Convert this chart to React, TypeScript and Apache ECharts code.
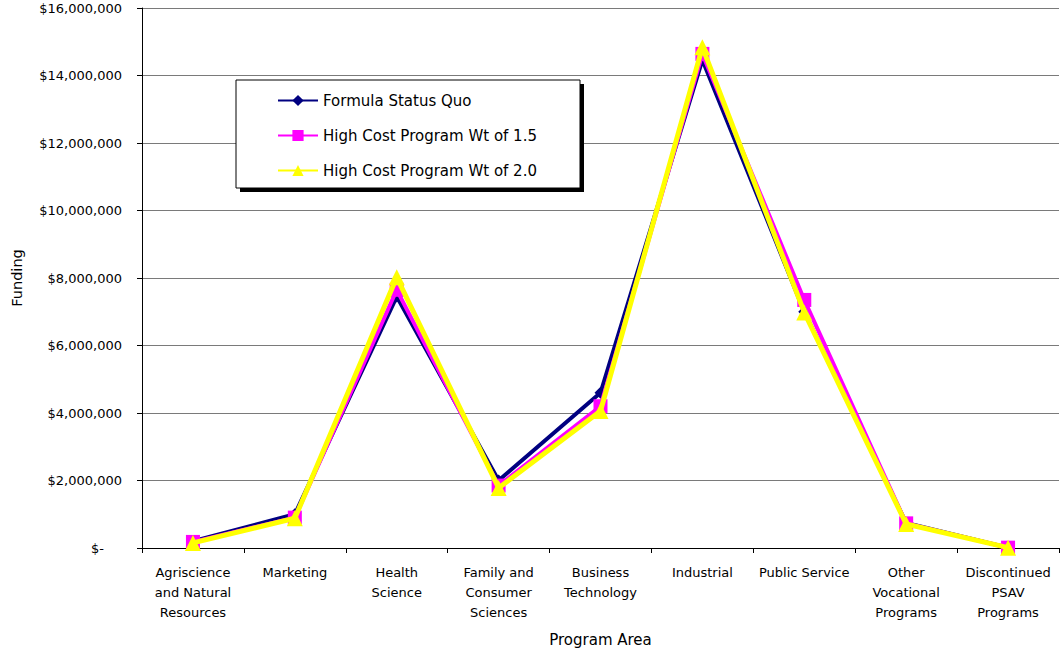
import React, { useEffect, useRef } from "react";
import * as echarts from "echarts";

const categories = [
  "Agriscience\nand Natural\nResources",
  "Marketing",
  "Health\nScience",
  "Family and\nConsumer\nSciences",
  "Business\nTechnology",
  "Industrial",
  "Public Service",
  "Other\nVocational\nPrograms",
  "Discontinued\nPSAV\nPrograms",
];

const statusQuo = [200000, 1000000, 7450000, 2000000, 4600000, 14460000, 7000000, 740000, 10000];
const wt15 = [180000, 900000, 7650000, 1850000, 4200000, 14640000, 7350000, 730000, 10000];
const wt20 = [150000, 880000, 8020000, 1780000, 4060000, 14840000, 6980000, 710000, 10000];

const yTicks = { min: 0, max: 16000000, interval: 2000000 };

const FONT = "DejaVu Sans";

export default function App() {
  const ref = useRef<HTMLDivElement>(null);

  useEffect(() => {
    if (!ref.current) return;
    const chart = echarts.init(ref.current, undefined, { renderer: "svg" });

    const fmt = (v: number) =>
      v === 0 ? "{z|$-}" : "$" + v.toLocaleString("en-US");

    chart.setOption({
      animation: false,
      backgroundColor: "#ffffff",
      textStyle: { fontFamily: FONT, color: "#000" },
      grid: { left: 142, top: 8, right: 1, bottom: 107, containLabel: false },
      xAxis: {
        type: "category",
        data: categories,
        boundaryGap: true,
        name: "Program Area",
        nameLocation: "middle",
        nameGap: 84,
        nameTextStyle: { fontFamily: FONT, fontSize: 15, color: "#000" },
        axisLine: { lineStyle: { color: "#000", width: 1 } },
        axisTick: { show: true, alignWithLabel: false, length: 5, lineStyle: { color: "#000" } },
        axisLabel: {
          interval: 0,
          margin: 14,
          fontFamily: FONT,
          fontSize: 13,
          lineHeight: 20,
          color: "#000",
          align: "center",
        },
        splitLine: { show: false },
      },
      yAxis: {
        type: "value",
        min: yTicks.min,
        max: yTicks.max,
        interval: yTicks.interval,
        name: "Funding",
        nameLocation: "middle",
        nameGap: 118,
        nameRotate: 90,
        nameTextStyle: { fontFamily: FONT, fontSize: 14.5, color: "#000" },
        axisLine: { show: true, lineStyle: { color: "#000", width: 1 } },
        axisTick: { show: true, length: 5, inside: false, lineStyle: { color: "#000" } },
        axisLabel: {
          margin: 20,
          fontFamily: FONT,
          fontSize: 13,
          color: "#000",
          formatter: fmt,
          rich: { z: { fontFamily: FONT, fontSize: 13, color: "#000", padding: [0, 18, 0, 0] } },
        },
        splitLine: { show: true, lineStyle: { color: "#7a7a7a", width: 1 } },
      },
      legend: {
        orient: "vertical",
        left: 277,
        top: 93,
        padding: 0,
        itemWidth: 40,
        itemHeight: 14,
        itemGap: 20,
        z: 10,
        textStyle: { fontFamily: FONT, fontSize: 15, color: "#000" },
        data: ["Formula Status Quo", "High Cost Program Wt of 1.5", "High Cost Program Wt of 2.0"],
      },
      graphic: [
        {
          type: "rect",
          z: 8,
          shape: { x: 240, y: 84, width: 344, height: 108 },
          style: { fill: "#000" },
        },
        {
          type: "rect",
          z: 9,
          shape: { x: 236, y: 80, width: 344, height: 108 },
          style: { fill: "#fff", stroke: "#000", lineWidth: 1 },
        },
      ],
      series: [
        {
          name: "Formula Status Quo",
          type: "line",
          data: statusQuo,
          symbol: "diamond",
          symbolSize: 12,
          lineStyle: { color: "#000080", width: 4 },
          itemStyle: { color: "#000080" },
          z: 2,
        },
        {
          name: "High Cost Program Wt of 1.5",
          type: "line",
          data: wt15,
          symbol: "rect",
          symbolSize: 14,
          lineStyle: { color: "#ff00ff", width: 4 },
          itemStyle: { color: "#ff00ff" },
          z: 3,
        },
        {
          name: "High Cost Program Wt of 2.0",
          type: "line",
          data: wt20,
          symbol: "triangle",
          symbolSize: 16,
          lineStyle: { color: "#ffff00", width: 5 },
          itemStyle: { color: "#ffff00" },
          z: 4,
        },
      ],
    });

    return () => chart.dispose();
  }, []);

  return (
    <div
      ref={ref}
      style={{ position: "fixed", left: 0, top: 0, width: 1060, height: 655 }}
    />
  );
}
